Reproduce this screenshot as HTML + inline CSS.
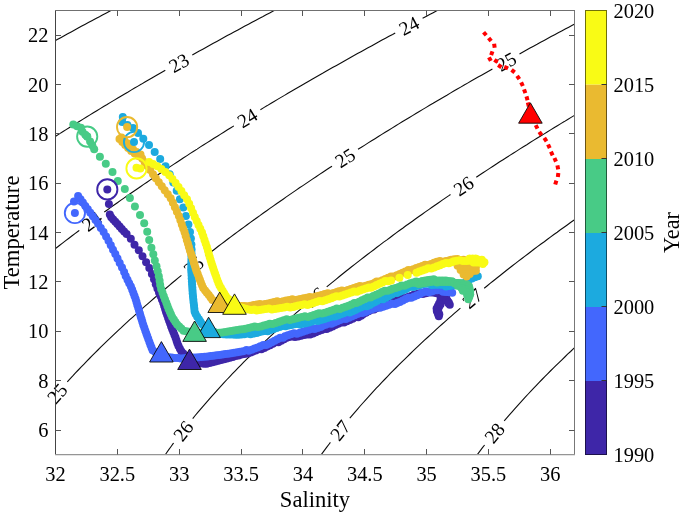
<!DOCTYPE html>
<html lang="en"><head><meta charset="utf-8"><title>T-S diagram</title>
<style>
html,body{margin:0;padding:0;background:#fff;}
body{width:685px;height:514px;overflow:hidden;position:relative;font-family:"Liberation Serif","Times New Roman",serif;}
</style></head><body>
<svg width="685" height="514" viewBox="0 0 685 514" style="position:absolute;left:0;top:0">
<defs><clipPath id="ax"><rect x="55.5" y="10.5" width="519.0" height="444.0"/></clipPath></defs>
<rect x="0" y="0" width="685" height="514" fill="#fff"/>
<g clip-path="url(#ax)"><path d="M25.7,57.2 29.2,55.2 32.7,53.2 36.2,51.3 39.7,49.3 43.2,47.4 46.7,45.4 50.2,43.5 53.7,41.5 57.2,39.6 60.7,37.7 64.2,35.7 67.7,33.8 71.2,31.9 74.7,30 78.2,28.1 81.8,26.1 85.3,24.2 88.8,22.3 92.3,20.4 95.9,18.5 99.4,16.7 102.9,14.8 106.4,12.9 110,11 113.5,9.1 117.1,7.3 120.6,5.4 124.1,3.5 127.7,1.7 131.2,-0.2 134.8,-2 138.3,-3.9 141.9,-5.7 145.4,-7.6 149,-9.4 152.5,-11.3 156.1,-13.1 159.6,-14.9 163.2,-16.8 166.8,-18.6 M25.7,155.5 29,153.3 32.4,151.2 35.7,149 39.1,146.8 42.5,144.6 45.8,142.5 49.2,140.3 52.6,138.2 56,136 59.4,133.9 62.7,131.8 66.1,129.6 69.5,127.5 72.9,125.4 76.3,123.3 79.7,121.2 83.1,119.1 86.5,117 90,114.9 93.4,112.8 96.8,110.7 100.2,108.6 103.6,106.5 107.1,104.5 110.5,102.4 113.9,100.4 117.4,98.3 120.8,96.3 124.2,94.2 127.7,92.2 131.1,90.1 134.6,88.1 138,86.1 141.5,84.1 144.9,82 148.4,80 151.9,78 155.3,76 158.8,74 162.3,72 165.3,70.3 M192.3,55 195.8,53 199.3,51.1 202.8,49.2 206.3,47.2 209.8,45.3 213.3,43.3 216.8,41.4 220.3,39.5 223.8,37.6 227.3,35.6 230.9,33.7 234.4,31.8 237.9,29.9 241.4,28 244.9,26.1 248.5,24.2 252,22.3 255.5,20.4 259.1,18.5 262.6,16.7 266.1,14.8 269.7,12.9 273.2,11 276.7,9.2 280.3,7.3 283.8,5.4 287.4,3.6 290.9,1.7 294.5,-0.1 298,-2 301.6,-3.8 305.1,-5.7 308.7,-7.5 312.2,-9.3 315.8,-11.2 319.4,-13 322.9,-14.8 326.5,-16.6 330.1,-18.4 M28,270.4 31.1,267.9 34.2,265.3 37.3,262.8 40.5,260.3 43.6,257.8 46.7,255.4 49.9,252.9 53,250.4 56.2,248 59.4,245.5 62.5,243.1 65.7,240.6 68.9,238.2 72.1,235.8 75.3,233.4 78.5,231 79.3,230.4 M104.3,212 107.6,209.7 110.8,207.4 114.1,205 117.4,202.7 120.6,200.4 123.9,198.1 127.2,195.8 130.5,193.5 133.8,191.3 137.1,189 140.4,186.7 143.7,184.4 147,182.2 150.3,179.9 153.6,177.7 156.9,175.5 160.2,173.2 163.6,171 166.9,168.8 170.2,166.6 173.6,164.4 176.9,162.2 180.3,160 183.6,157.8 187,155.6 190.3,153.4 193.7,151.2 197.1,149.1 200.4,146.9 203.8,144.8 207.2,142.6 210.6,140.5 214,138.3 217.4,136.2 220.7,134.1 224.1,132 227.5,129.8 230.9,127.7 233.9,125.9 M260.4,109.7 263.8,107.6 267.3,105.6 270.7,103.5 274.1,101.5 277.6,99.4 281,97.4 284.5,95.4 287.9,93.3 291.4,91.3 294.8,89.3 298.3,87.3 301.8,85.2 305.2,83.2 308.7,81.2 312.1,79.2 315.6,77.2 319.1,75.2 322.6,73.3 326,71.3 329.5,69.3 333,67.3 336.5,65.4 340,63.4 343.5,61.4 347,59.5 350.5,57.5 354,55.6 357.5,53.6 361,51.7 364.5,49.7 368,47.8 371.5,45.9 375,43.9 378.5,42 382,40.1 385.5,38.2 389,36.3 392.6,34.4 395.2,32.9 M422.6,18.3 426.1,16.4 429.6,14.6 433.2,12.7 436.7,10.8 440.3,9 443.8,7.1 447.4,5.3 450.9,3.4 454.5,1.6 458,-0.3 461.6,-2.1 465.1,-4 468.7,-5.8 472.3,-7.6 475.8,-9.4 479.4,-11.3 483,-13.1 486.5,-14.9 490.1,-16.7 493.7,-18.5 M67.3,381.8 70,378.8 72.8,375.9 75.5,372.9 78.3,370 81,367.1 83.8,364.3 86.6,361.4 89.4,358.5 92.2,355.7 95,352.8 97.9,350 100.7,347.2 103.6,344.4 106.4,341.6 109.3,338.9 112.2,336.1 115.1,333.3 118,330.6 121,327.9 123.9,325.1 126.9,322.4 129.8,319.7 132.8,317.1 135.8,314.4 138.7,311.7 141.7,309.1 144.7,306.4 147.7,303.8 150.8,301.1 153.8,298.5 156.8,295.9 159.9,293.3 162.9,290.7 166,288.2 169.1,285.6 172.1,283 175.2,280.5 178.3,277.9 181.4,275.4 181.4,275.4 M205.7,256.1 208.8,253.6 212,251.2 215.2,248.7 218.3,246.3 221.5,243.9 224.7,241.5 227.9,239 231.1,236.6 234.3,234.2 237.5,231.9 240.7,229.5 244,227.1 247.2,224.7 250.4,222.4 253.7,220 256.9,217.7 260.2,215.4 263.4,213 266.7,210.7 269.9,208.4 273.2,206.1 276.5,203.8 279.8,201.5 283.1,199.2 286.3,196.9 289.6,194.6 292.9,192.4 296.2,190.1 299.5,187.8 302.9,185.6 306.2,183.4 309.5,181.1 312.8,178.9 316.1,176.7 319.5,174.4 322.8,172.2 326.1,170 329.5,167.8 332,166.2 M358,149.3 361.4,147.2 364.8,145.1 368.2,142.9 371.6,140.8 375,138.7 378.4,136.5 381.8,134.4 385.2,132.3 388.6,130.2 392,128.1 395.4,126 398.8,123.9 402.2,121.8 405.6,119.8 409,117.7 412.5,115.6 415.9,113.5 419.3,111.5 422.8,109.4 426.2,107.4 429.6,105.3 433.1,103.3 436.5,101.2 440,99.2 443.4,97.2 446.9,95.2 450.3,93.1 453.8,91.1 457.3,89.1 460.7,87.1 464.2,85.1 467.6,83.1 471.1,81.1 474.6,79.1 478.1,77.1 481.5,75.2 485,73.2 488.5,71.2 492,69.2 492.4,69 M519.5,53.9 523,52 526.5,50 530,48.1 533.5,46.2 537.1,44.3 540.6,42.3 544.1,40.4 547.6,38.5 551.1,36.6 554.7,34.7 558.2,32.8 561.7,30.9 565.2,29.1 568.8,27.2 572.3,25.3 575.8,23.4 579.4,21.5 582.9,19.7 586.5,17.8 590,15.9 593.5,14.1 597.1,12.2 600.6,10.4 604.2,8.5 M146.4,483.2 148.5,479.8 150.6,476.4 152.8,473.1 155,469.7 157.2,466.4 159.4,463 161.7,459.7 164,456.5 166.3,453.2 168.6,449.9 170.9,446.7 173.3,443.4 173.6,443 M192.7,418.6 195.2,415.5 197.8,412.4 200.4,409.4 203,406.3 205.6,403.3 208.2,400.3 210.8,397.3 213.5,394.3 216.2,391.3 218.9,388.3 221.6,385.4 224.3,382.4 227,379.5 229.8,376.6 232.5,373.7 235.3,370.8 238.1,367.9 240.9,365.1 243.7,362.2 246.5,359.4 249.4,356.6 252.2,353.8 255.1,351 257.9,348.2 260.8,345.4 263.7,342.6 266.6,339.9 269.5,337.1 272.5,334.4 275.4,331.7 278.3,329 281.3,326.3 284.3,323.6 287.2,320.9 290.2,318.2 293.2,315.6 296.2,312.9 299.2,310.3 302.2,307.6 303,307 M326.7,286.9 329.8,284.4 332.9,281.9 336,279.3 339.1,276.8 342.2,274.3 345.3,271.8 348.5,269.3 351.6,266.8 354.7,264.4 357.9,261.9 361.1,259.4 364.2,257 367.4,254.5 370.6,252.1 373.8,249.7 376.9,247.3 380.1,244.9 383.3,242.4 386.6,240.1 389.8,237.7 393,235.3 396.2,232.9 399.4,230.5 402.7,228.2 405.9,225.8 409.2,223.5 412.4,221.2 415.7,218.8 418.9,216.5 422.2,214.2 425.4,211.9 428.7,209.6 432,207.3 435.3,205 438.6,202.7 441.9,200.4 445.2,198.1 448.5,195.9 450.5,194.5 M476.3,177.2 479.6,175 483,172.8 486.3,170.6 489.7,168.4 493,166.2 496.4,164 499.7,161.8 503.1,159.7 506.5,157.5 509.8,155.4 513.2,153.2 516.6,151.1 520,148.9 523.4,146.8 526.8,144.7 530.1,142.5 533.5,140.4 536.9,138.3 540.3,136.2 543.8,134.1 547.2,132 550.6,129.9 554,127.8 557.4,125.7 560.8,123.6 564.3,121.6 567.7,119.5 571.1,117.4 574.5,115.4 578,113.3 581.4,111.3 584.9,109.2 588.3,107.2 591.8,105.2 595.2,103.1 598.7,101.1 602.1,99.1 M301.8,483.4 303.9,480.1 306.1,476.7 308.3,473.4 310.5,470 312.8,466.7 315,463.4 317.3,460.1 319.7,456.9 322,453.6 324.4,450.4 326.8,447.2 329.2,444 330.4,442.4 M349.8,418.2 352.4,415.1 355,412.1 357.6,409.1 360.2,406 362.9,403 365.5,400.1 368.2,397.1 370.9,394.1 373.6,391.2 376.3,388.2 379.1,385.3 381.8,382.4 384.6,379.5 387.4,376.6 390.1,373.7 392.9,370.9 395.8,368 398.6,365.2 401.4,362.4 404.3,359.6 407.1,356.8 410,354 412.9,351.2 415.8,348.4 418.7,345.7 421.6,342.9 424.5,340.2 427.5,337.5 430.4,334.8 433.4,332.1 436.3,329.4 439.3,326.7 442.3,324 445.3,321.4 448.3,318.7 451.3,316.1 454.3,313.4 457.3,310.8 460.4,308.2 460.4,308.2 M484.2,288.3 487.3,285.8 490.4,283.2 493.5,280.7 496.6,278.2 499.8,275.7 502.9,273.3 506,270.8 509.2,268.3 512.4,265.8 515.5,263.4 518.7,260.9 521.9,258.5 525,256.1 528.2,253.7 531.4,251.2 534.6,248.8 537.8,246.4 541,244 544.3,241.7 547.5,239.3 550.7,236.9 553.9,234.5 557.2,232.2 560.4,229.8 563.7,227.5 566.9,225.2 570.2,222.8 573.4,220.5 576.7,218.2 580,215.9 583.3,213.6 586.5,211.3 589.8,209 593.1,206.7 596.4,204.5 599.7,202.2 603,199.9 M457,483.6 459.2,480.3 461.4,477 463.7,473.7 466,470.4 468.3,467.1 470.6,463.8 472.9,460.6 475.3,457.3 477.7,454.1 480.1,450.9 482.5,447.7 484.6,445 M504.2,420.9 506.8,417.9 509.4,414.8 512.1,411.8 514.7,408.8 517.4,405.8 520.1,402.9 522.8,399.9 525.5,396.9 528.2,394 530.9,391.1 533.7,388.2 536.4,385.3 539.2,382.4 542,379.5 544.8,376.7 547.6,373.8 550.4,371 553.3,368.2 556.1,365.4 559,362.6 561.9,359.8 564.8,357 567.6,354.2 570.6,351.5 573.5,348.7 576.4,346 579.3,343.3 582.3,340.6 585.2,337.9 588.2,335.2 591.2,332.5 594.2,329.8 597.1,327.2 600.1,324.5 603.2,321.9" fill="none" stroke="#0c0c0c" stroke-width="1.1"/></g>
<g font-family="'Liberation Serif','Times New Roman',serif" font-size="19.5" fill="#000" text-anchor="middle">
<text transform="translate(178.8,62.6) rotate(-29.5)" y="7">23</text>
<text transform="translate(408.9,25.6) rotate(-28.1)" y="7">24</text>
<text transform="translate(247.1,117.8) rotate(-31.4)" y="7">24</text>
<text transform="translate(91.8,221.1) rotate(-36.3)" y="7">24</text>
<text transform="translate(506,61.4) rotate(-29.2)" y="7">25</text>
<text transform="translate(345,157.7) rotate(-32.9)" y="7">25</text>
<text transform="translate(193.5,265.7) rotate(-38.5)" y="7">25</text>
<text transform="translate(57,393.3) rotate(-48.7)" y="7">25</text>
<text transform="translate(463.4,185.8) rotate(-33.9)" y="7">26</text>
<text transform="translate(314.8,296.9) rotate(-40.2)" y="7">26</text>
<text transform="translate(183,430.7) rotate(-52)" y="7">26</text>
<text transform="translate(472.2,298.2) rotate(-39.9)" y="7">27</text>
<text transform="translate(340,430.2) rotate(-51.3)" y="7">27</text>
<text transform="translate(494.3,432.8) rotate(-50.9)" y="7">28</text>
</g>
<g clip-path="url(#ax)">
<g fill="#3E26A8"><circle cx="108.9" cy="203.9" r="4.0"/><circle cx="109.8" cy="214.5" r="4.0"/><circle cx="111.2" cy="217.2" r="4.0"/><circle cx="113.2" cy="219.4" r="4.0"/><circle cx="115.3" cy="221.7" r="4.0"/><circle cx="117.4" cy="224" r="4.0"/><circle cx="119.6" cy="226.4" r="4.0"/><circle cx="121.8" cy="228.9" r="4.0"/><circle cx="124.1" cy="231.4" r="4.0"/><circle cx="126.6" cy="233.9" r="4.0"/><circle cx="130.8" cy="238.8" r="4.0"/><circle cx="134.5" cy="244.7" r="4.0"/><circle cx="138.8" cy="250.3" r="4.0"/><circle cx="142.5" cy="256.2" r="4.0"/><circle cx="146.1" cy="262.2" r="4.0"/><circle cx="149.3" cy="268" r="4.0"/><circle cx="151.9" cy="273.9" r="4.0"/><circle cx="154" cy="279.3" r="4.0"/><circle cx="155.8" cy="284.2" r="4.0"/><circle cx="157.4" cy="288.5" r="4.0"/><circle cx="159" cy="292.4" r="4.0"/><circle cx="160.5" cy="296" r="4.0"/><circle cx="161.9" cy="299.4" r="4.0"/><circle cx="163.2" cy="302.8" r="4.0"/><circle cx="164.2" cy="306.1" r="4.0"/><circle cx="165.2" cy="309.3" r="4.0"/><circle cx="166.1" cy="312.3" r="4.0"/><circle cx="167.1" cy="315.1" r="4.0"/><circle cx="168.1" cy="317.9" r="4.0"/><circle cx="169.1" cy="320.7" r="4.0"/><circle cx="170.1" cy="323.6" r="4.0"/><circle cx="171.1" cy="326.4" r="4.0"/><circle cx="172.2" cy="329.2" r="4.0"/><circle cx="173.3" cy="332" r="4.0"/><circle cx="174.4" cy="334.8" r="4.0"/><circle cx="175.5" cy="337.6" r="4.0"/><circle cx="176.5" cy="340.4" r="4.0"/><circle cx="177.4" cy="343.2" r="4.0"/><circle cx="178.5" cy="346" r="4.0"/><circle cx="179.9" cy="348.7" r="4.0"/><circle cx="181.3" cy="351.3" r="4.0"/><circle cx="183.3" cy="353.6" r="4.0"/><circle cx="185.3" cy="355.8" r="4.0"/><circle cx="187.3" cy="358" r="4.0"/><circle cx="189.3" cy="360.3" r="4.0"/><circle cx="192.1" cy="361.1" r="4.0"/><circle cx="195" cy="361.8" r="4.0"/><circle cx="198" cy="362.5" r="4.0"/><circle cx="200.9" cy="363.2" r="4.0"/><circle cx="203.8" cy="363.8" r="4.0"/><circle cx="206.7" cy="363.8" r="4.0"/><circle cx="209.6" cy="363.1" r="4.0"/><circle cx="212.5" cy="362.3" r="4.0"/><circle cx="215.4" cy="361.5" r="4.0"/><circle cx="218.3" cy="360.8" r="4.0"/><circle cx="221.2" cy="360" r="4.0"/><circle cx="224.1" cy="359.2" r="4.0"/><circle cx="227" cy="358.4" r="4.0"/><circle cx="229.9" cy="357.7" r="4.0"/><circle cx="232.8" cy="356.9" r="4.0"/><circle cx="235.7" cy="356.1" r="4.0"/><circle cx="238.6" cy="355.4" r="4.0"/><circle cx="241.5" cy="354.6" r="4.0"/><circle cx="244.4" cy="353.9" r="4.0"/><circle cx="247.7" cy="353.6" r="4.0"/><circle cx="250.6" cy="352.6" r="4.0"/><circle cx="252.7" cy="351.6" r="4.0"/><circle cx="255.7" cy="350.6" r="4.0"/><circle cx="258.6" cy="349.2" r="4.0"/><circle cx="261.4" cy="349.3" r="4.0"/><circle cx="264.3" cy="347.9" r="4.0"/><circle cx="267.1" cy="346.6" r="4.0"/><circle cx="270" cy="345.2" r="4.0"/><circle cx="272.8" cy="343.8" r="4.0"/><circle cx="275.6" cy="342.3" r="4.0"/><circle cx="278.4" cy="342.2" r="4.0"/><circle cx="281.2" cy="340.7" r="4.0"/><circle cx="284" cy="339.2" r="4.0"/><circle cx="286.8" cy="337.8" r="4.0"/><circle cx="289" cy="337.1" r="4.0"/><circle cx="292" cy="336.4" r="4.0"/><circle cx="295" cy="337.1" r="4.0"/><circle cx="298.1" cy="336.4" r="4.0"/><circle cx="301.1" cy="335.7" r="4.0"/><circle cx="304.1" cy="335" r="4.0"/><circle cx="307.2" cy="334.4" r="4.0"/><circle cx="310.1" cy="334.6" r="4.0"/><circle cx="313" cy="333.4" r="4.0"/><circle cx="315.9" cy="332.2" r="4.0"/><circle cx="318.8" cy="331.1" r="4.0"/><circle cx="321.7" cy="329.9" r="4.0"/><circle cx="324.7" cy="328.7" r="4.0"/><circle cx="326.7" cy="328.9" r="4.0"/><circle cx="329.6" cy="327.7" r="4.0"/><circle cx="332.5" cy="326.4" r="4.0"/><circle cx="335.4" cy="325.1" r="4.0"/><circle cx="338.3" cy="323.8" r="4.0"/><circle cx="341.1" cy="322.5" r="4.0"/><circle cx="344" cy="322.6" r="4.0"/><circle cx="346.9" cy="321.3" r="4.0"/><circle cx="349.8" cy="320.1" r="4.0"/><circle cx="352.6" cy="318.7" r="4.0"/><circle cx="355.4" cy="317.2" r="4.0"/><circle cx="358.3" cy="317.2" r="4.0"/><circle cx="361.1" cy="315.8" r="4.0"/><circle cx="363" cy="314.3" r="4.0"/><circle cx="365.8" cy="312.8" r="4.0"/><circle cx="368.6" cy="311.3" r="4.0"/><circle cx="371.3" cy="309.7" r="4.0"/><circle cx="374.1" cy="309.6" r="4.0"/><circle cx="376.9" cy="308.1" r="4.0"/><circle cx="379.8" cy="306.7" r="4.0"/><circle cx="382.6" cy="305.3" r="4.0"/><circle cx="385.5" cy="304" r="4.0"/><circle cx="388.3" cy="302.6" r="4.0"/><circle cx="391.2" cy="302.7" r="4.0"/><circle cx="394.1" cy="301.6" r="4.0"/><circle cx="397.1" cy="300.4" r="4.0"/><circle cx="399.1" cy="299.3" r="4.0"/><circle cx="402" cy="298.1" r="4.0"/><circle cx="405" cy="298.3" r="4.0"/><circle cx="407.9" cy="297.1" r="4.0"/><circle cx="410.8" cy="296" r="4.0"/><circle cx="413.7" cy="294.8" r="4.0"/><circle cx="416.7" cy="293.9" r="4.0"/><circle cx="419.7" cy="293.2" r="4.0"/><circle cx="422.8" cy="293.9" r="4.0"/><circle cx="425.8" cy="293.3" r="4.0"/><circle cx="428.8" cy="292.6" r="4.0"/><circle cx="431.9" cy="292.5" r="4.0"/><circle cx="434.9" cy="292.8" r="4.0"/><circle cx="437" cy="293.2" r="4.0"/><circle cx="440" cy="294.9" r="4.0"/><circle cx="443" cy="295.3" r="4.0"/><circle cx="444.6" cy="296.1" r="4.0"/><circle cx="442.5" cy="297.9" r="4.0"/><circle cx="440.5" cy="299.8" r="4.0"/><circle cx="439.1" cy="303.6" r="4.0"/><circle cx="437.9" cy="306" r="4.0"/><circle cx="436.6" cy="308.5" r="4.0"/><circle cx="436.8" cy="311" r="4.0"/><circle cx="437.8" cy="313.6" r="4.0"/><circle cx="438.8" cy="316.2" r="4.0"/><circle cx="445" cy="295.7" r="4.0"/><circle cx="446.2" cy="298.2" r="4.0"/><circle cx="447.5" cy="300.7" r="4.0"/><circle cx="448.4" cy="303.3" r="4.0"/><circle cx="446.1" cy="296.9" r="4.0"/><circle cx="444" cy="298.8" r="4.0"/><circle cx="442" cy="300.7" r="4.0"/><circle cx="440.5" cy="304.4" r="4.0"/><circle cx="439.1" cy="306.7" r="4.0"/><circle cx="437.7" cy="309.1" r="4.0"/><circle cx="438.3" cy="311.7" r="4.0"/><circle cx="439.3" cy="314.3" r="4.0"/><circle cx="446.6" cy="300.5" r="4.0"/><circle cx="448.8" cy="302.4" r="4.0"/><circle cx="449.8" cy="304.8" r="4.0"/></g>
<g fill="#4367FD"><circle cx="74" cy="201.6" r="4.0"/><circle cx="78.1" cy="196" r="4.0"/><circle cx="80.5" cy="199.2" r="4.0"/><circle cx="82.9" cy="202.5" r="4.0"/><circle cx="85.3" cy="205.9" r="4.0"/><circle cx="87.8" cy="209.3" r="4.0"/><circle cx="90.3" cy="212.8" r="4.0"/><circle cx="92.9" cy="216.3" r="4.0"/><circle cx="95.5" cy="220" r="4.0"/><circle cx="98.1" cy="223.8" r="4.0"/><circle cx="100.8" cy="227.9" r="4.0"/><circle cx="103.6" cy="232.1" r="4.0"/><circle cx="106.1" cy="236.4" r="4.0"/><circle cx="108.5" cy="240.8" r="4.0"/><circle cx="110.8" cy="245.2" r="4.0"/><circle cx="113" cy="249.7" r="4.0"/><circle cx="115.3" cy="254.1" r="4.0"/><circle cx="117.5" cy="258.6" r="4.0"/><circle cx="119.7" cy="263.1" r="4.0"/><circle cx="122" cy="267.6" r="4.0"/><circle cx="124.1" cy="271.9" r="4.0"/><circle cx="125.7" cy="276.1" r="4.0"/><circle cx="127.5" cy="279.7" r="4.0"/><circle cx="129.2" cy="283.2" r="4.0"/><circle cx="130.9" cy="286.5" r="4.0"/><circle cx="132.2" cy="289.8" r="4.0"/><circle cx="133.4" cy="293" r="4.0"/><circle cx="134.5" cy="296.1" r="4.0"/><circle cx="135.6" cy="299.1" r="4.0"/><circle cx="136.5" cy="302" r="4.0"/><circle cx="137.3" cy="304.9" r="4.0"/><circle cx="138.2" cy="307.7" r="4.0"/><circle cx="139" cy="310.6" r="4.0"/><circle cx="139.9" cy="313.5" r="4.0"/><circle cx="140.7" cy="316.4" r="4.0"/><circle cx="141.6" cy="319.2" r="4.0"/><circle cx="142.4" cy="322.1" r="4.0"/><circle cx="143.3" cy="325" r="4.0"/><circle cx="144.3" cy="327.8" r="4.0"/><circle cx="145.3" cy="330.7" r="4.0"/><circle cx="146.3" cy="333.5" r="4.0"/><circle cx="147.3" cy="336.3" r="4.0"/><circle cx="148.3" cy="339.1" r="4.0"/><circle cx="149.4" cy="341.9" r="4.0"/><circle cx="150.4" cy="344.7" r="4.0"/><circle cx="151.5" cy="347.5" r="4.0"/><circle cx="152.6" cy="350.3" r="4.0"/><circle cx="155.1" cy="352" r="4.0"/><circle cx="157.6" cy="353.5" r="4.0"/><circle cx="160.2" cy="355.1" r="4.0"/><circle cx="162.7" cy="356.7" r="4.0"/><circle cx="165.7" cy="357" r="4.0"/><circle cx="168.7" cy="357.3" r="4.0"/><circle cx="171.7" cy="357.6" r="4.0"/><circle cx="174.7" cy="357.9" r="4.0"/><circle cx="177.7" cy="358.1" r="4.0"/><circle cx="180.7" cy="358.4" r="4.0"/><circle cx="183.7" cy="358.2" r="4.0"/><circle cx="186.6" cy="358" r="4.0"/><circle cx="189.6" cy="357.8" r="4.0"/><circle cx="192.6" cy="357.6" r="4.0"/><circle cx="195.6" cy="357.4" r="4.0"/><circle cx="198.6" cy="357.2" r="4.0"/><circle cx="201.6" cy="357" r="4.0"/><circle cx="204.6" cy="356.8" r="4.0"/><circle cx="207.6" cy="356.4" r="4.0"/><circle cx="210.6" cy="356" r="4.0"/><circle cx="213.5" cy="355.7" r="4.0"/><circle cx="216.5" cy="355.3" r="4.0"/><circle cx="219.5" cy="354.9" r="4.0"/><circle cx="222.5" cy="354.5" r="4.0"/><circle cx="225.4" cy="354.1" r="4.0"/><circle cx="228.4" cy="353.8" r="4.0"/><circle cx="231.4" cy="353.3" r="4.0"/><circle cx="234.3" cy="352.8" r="4.0"/><circle cx="237.3" cy="352.3" r="4.0"/><circle cx="240.2" cy="351.7" r="4.0"/><circle cx="243.2" cy="351.2" r="4.0"/><circle cx="246.5" cy="350.1" r="4.0"/><circle cx="248.7" cy="350.7" r="4.0"/><circle cx="251.7" cy="349.8" r="4.0"/><circle cx="254.6" cy="348.6" r="4.0"/><circle cx="257.5" cy="347.5" r="4.0"/><circle cx="260.4" cy="346.3" r="4.0"/><circle cx="263.3" cy="345.1" r="4.0"/><circle cx="266.2" cy="345.1" r="4.0"/><circle cx="269" cy="343.7" r="4.0"/><circle cx="271.8" cy="342.2" r="4.0"/><circle cx="274.6" cy="340.8" r="4.0"/><circle cx="277.4" cy="339.3" r="4.0"/><circle cx="280.2" cy="337.8" r="4.0"/><circle cx="283.1" cy="337.8" r="4.0"/><circle cx="285" cy="336.3" r="4.0"/><circle cx="287.9" cy="335.2" r="4.0"/><circle cx="290.9" cy="334.3" r="4.0"/><circle cx="293.9" cy="333.3" r="4.0"/><circle cx="296.9" cy="333.7" r="4.0"/><circle cx="299.9" cy="332.8" r="4.0"/><circle cx="302.8" cy="331.8" r="4.0"/><circle cx="305.8" cy="330.8" r="4.0"/><circle cx="308.8" cy="329.8" r="4.0"/><circle cx="311.7" cy="328.8" r="4.0"/><circle cx="314.7" cy="329" r="4.0"/><circle cx="317.6" cy="328" r="4.0"/><circle cx="320.6" cy="326.9" r="4.0"/><circle cx="322.6" cy="325.8" r="4.0"/><circle cx="325.6" cy="324.7" r="4.0"/><circle cx="328.5" cy="323.6" r="4.0"/><circle cx="331.4" cy="323.8" r="4.0"/><circle cx="334.3" cy="322.5" r="4.0"/><circle cx="337.2" cy="321.3" r="4.0"/><circle cx="340.1" cy="320" r="4.0"/><circle cx="343" cy="318.8" r="4.0"/><circle cx="345.9" cy="318.9" r="4.0"/><circle cx="348.8" cy="317.7" r="4.0"/><circle cx="351.7" cy="316.5" r="4.0"/><circle cx="354.6" cy="315.3" r="4.0"/><circle cx="357.5" cy="314.1" r="4.0"/><circle cx="359.6" cy="312.9" r="4.0"/><circle cx="362.5" cy="313.1" r="4.0"/><circle cx="365.4" cy="311.9" r="4.0"/><circle cx="368.3" cy="310.7" r="4.0"/><circle cx="371.2" cy="309.5" r="4.0"/><circle cx="374.2" cy="308.4" r="4.0"/><circle cx="377.1" cy="307.4" r="4.0"/><circle cx="380.1" cy="307.8" r="4.0"/><circle cx="383.1" cy="306.8" r="4.0"/><circle cx="386.1" cy="305.8" r="4.0"/><circle cx="389" cy="304.8" r="4.0"/><circle cx="392" cy="303.8" r="4.0"/><circle cx="395" cy="304.1" r="4.0"/><circle cx="397.1" cy="303.1" r="4.0"/><circle cx="399.9" cy="301.9" r="4.0"/><circle cx="402.8" cy="300.5" r="4.0"/><circle cx="405.6" cy="299.1" r="4.0"/><circle cx="408.5" cy="297.8" r="4.0"/><circle cx="411.3" cy="297.8" r="4.0"/><circle cx="414.2" cy="296.5" r="4.0"/><circle cx="417.1" cy="295.2" r="4.0"/><circle cx="420" cy="293.9" r="4.0"/><circle cx="422.8" cy="292.6" r="4.0"/><circle cx="425.8" cy="291.6" r="4.0"/><circle cx="428.8" cy="292.2" r="4.0"/><circle cx="431.8" cy="291.4" r="4.0"/><circle cx="434" cy="290.6" r="4.0"/><circle cx="437" cy="290.2" r="4.0"/><circle cx="440.1" cy="290.3" r="4.0"/><circle cx="443.1" cy="291.8" r="4.0"/><circle cx="446.1" cy="292" r="4.0"/><circle cx="449.1" cy="292.3" r="4.0"/><circle cx="452.2" cy="292.7" r="4.0"/></g>
<g fill="#1CAADF"><circle cx="122.8" cy="117" r="4.0"/><circle cx="122.2" cy="122" r="4.0"/><circle cx="127.4" cy="124.9" r="4.0"/><circle cx="133" cy="128.1" r="4.0"/><circle cx="138" cy="132.9" r="4.0"/><circle cx="143.3" cy="138.8" r="4.0"/><circle cx="149" cy="145" r="4.0"/><circle cx="154.7" cy="151.9" r="4.0"/><circle cx="160.2" cy="159.1" r="4.0"/><circle cx="165.5" cy="166.3" r="4.0"/><circle cx="169.7" cy="174.2" r="4.0"/><circle cx="173.3" cy="182.5" r="4.0"/><circle cx="176.7" cy="190.8" r="4.0"/><circle cx="179.9" cy="199.2" r="4.0"/><circle cx="183.3" cy="207.5" r="4.0"/><circle cx="185.9" cy="216.1" r="4.0"/><circle cx="188.4" cy="224.4" r="4.0"/><circle cx="190" cy="231.9" r="4.0"/><circle cx="190.9" cy="238.6" r="4.0"/><circle cx="191.4" cy="244.5" r="4.0"/><circle cx="191.6" cy="249.5" r="4.0"/><circle cx="191.5" cy="253.2" r="4.0"/><circle cx="191.5" cy="256.7" r="4.0"/><circle cx="191.4" cy="260" r="4.0"/><circle cx="191.3" cy="263.3" r="4.0"/><circle cx="191.3" cy="266.4" r="4.0"/><circle cx="191.2" cy="269.5" r="4.0"/><circle cx="191.4" cy="272.5" r="4.0"/><circle cx="191.6" cy="275.5" r="4.0"/><circle cx="191.7" cy="278.5" r="4.0"/><circle cx="191.9" cy="281.5" r="4.0"/><circle cx="192.1" cy="284.5" r="4.0"/><circle cx="192.3" cy="287.5" r="4.0"/><circle cx="192.5" cy="290.5" r="4.0"/><circle cx="192.7" cy="293.5" r="4.0"/><circle cx="193" cy="296.5" r="4.0"/><circle cx="193.3" cy="299.5" r="4.0"/><circle cx="193.6" cy="302.4" r="4.0"/><circle cx="194" cy="305.4" r="4.0"/><circle cx="194.3" cy="308.4" r="4.0"/><circle cx="194.6" cy="311.4" r="4.0"/><circle cx="195.6" cy="314.1" r="4.0"/><circle cx="197.2" cy="316.7" r="4.0"/><circle cx="198.9" cy="319.2" r="4.0"/><circle cx="200.5" cy="321.7" r="4.0"/><circle cx="202.2" cy="324.2" r="4.0"/><circle cx="204.3" cy="326.1" r="4.0"/><circle cx="206.9" cy="327.7" r="4.0"/><circle cx="209.5" cy="329.2" r="4.0"/><circle cx="212" cy="330.8" r="4.0"/><circle cx="214.6" cy="332.3" r="4.0"/><circle cx="217.4" cy="333.3" r="4.0"/><circle cx="220.3" cy="333.9" r="4.0"/><circle cx="223.3" cy="334.3" r="4.0"/><circle cx="226.3" cy="334.4" r="4.0"/><circle cx="229.3" cy="334.5" r="4.0"/><circle cx="232.3" cy="334.6" r="4.0"/><circle cx="235.3" cy="334.7" r="4.0"/><circle cx="238.3" cy="334.8" r="4.0"/><circle cx="241.3" cy="334.5" r="4.0"/><circle cx="244.3" cy="334.2" r="4.0"/><circle cx="247.4" cy="333.4" r="4.0"/><circle cx="250.5" cy="334.2" r="4.0"/><circle cx="253.5" cy="333.5" r="4.0"/><circle cx="256.6" cy="332.9" r="4.0"/><circle cx="258.8" cy="332.2" r="4.0"/><circle cx="261.8" cy="331.6" r="4.0"/><circle cx="264.8" cy="330.9" r="4.0"/><circle cx="267.8" cy="331.2" r="4.0"/><circle cx="270.7" cy="330.1" r="4.0"/><circle cx="273.7" cy="329.1" r="4.0"/><circle cx="276.6" cy="328" r="4.0"/><circle cx="279.6" cy="326.9" r="4.0"/><circle cx="282.5" cy="325.9" r="4.0"/><circle cx="285.5" cy="326.2" r="4.0"/><circle cx="288.5" cy="325.5" r="4.0"/><circle cx="291.5" cy="324.9" r="4.0"/><circle cx="294.6" cy="324.3" r="4.0"/><circle cx="296.8" cy="323.7" r="4.0"/><circle cx="299.8" cy="324.4" r="4.0"/><circle cx="302.9" cy="323.8" r="4.0"/><circle cx="305.9" cy="323.2" r="4.0"/><circle cx="308.9" cy="322.5" r="4.0"/><circle cx="311.9" cy="321.5" r="4.0"/><circle cx="314.9" cy="320.6" r="4.0"/><circle cx="317.9" cy="321" r="4.0"/><circle cx="320.9" cy="320.1" r="4.0"/><circle cx="323.8" cy="319.2" r="4.0"/><circle cx="326.8" cy="318.2" r="4.0"/><circle cx="329.8" cy="317.3" r="4.0"/><circle cx="332.8" cy="316.2" r="4.0"/><circle cx="334.8" cy="316.5" r="4.0"/><circle cx="337.8" cy="315.4" r="4.0"/><circle cx="340.7" cy="314.3" r="4.0"/><circle cx="343.7" cy="313.2" r="4.0"/><circle cx="346.6" cy="312.1" r="4.0"/><circle cx="349.6" cy="312.4" r="4.0"/><circle cx="352.5" cy="311.2" r="4.0"/><circle cx="355.4" cy="309.9" r="4.0"/><circle cx="358.2" cy="308.6" r="4.0"/><circle cx="361.1" cy="307.3" r="4.0"/><circle cx="364" cy="306.1" r="4.0"/><circle cx="366.9" cy="306.2" r="4.0"/><circle cx="369.8" cy="304.9" r="4.0"/><circle cx="371.8" cy="303.6" r="4.0"/><circle cx="374.6" cy="302.2" r="4.0"/><circle cx="377.4" cy="300.7" r="4.0"/><circle cx="380.2" cy="299.2" r="4.0"/><circle cx="383" cy="299.2" r="4.0"/><circle cx="385.8" cy="297.7" r="4.0"/><circle cx="388.6" cy="296.2" r="4.0"/><circle cx="391.4" cy="294.7" r="4.0"/><circle cx="394.2" cy="293.2" r="4.0"/><circle cx="397" cy="293.1" r="4.0"/><circle cx="399.8" cy="291.7" r="4.0"/><circle cx="402.7" cy="290.5" r="4.0"/><circle cx="405.6" cy="289.2" r="4.0"/><circle cx="407.6" cy="287.9" r="4.0"/><circle cx="410.5" cy="286.7" r="4.0"/><circle cx="413.5" cy="287.1" r="4.0"/><circle cx="416.5" cy="286.1" r="4.0"/><circle cx="419.5" cy="285.2" r="4.0"/><circle cx="422.4" cy="284.2" r="4.0"/><circle cx="425.5" cy="283.8" r="4.0"/><circle cx="428.6" cy="283.7" r="4.0"/><circle cx="431.6" cy="284.9" r="4.0"/><circle cx="434.7" cy="284.7" r="4.0"/><circle cx="437.7" cy="284.7" r="4.0"/><circle cx="440.8" cy="284.8" r="4.0"/><circle cx="443.8" cy="285" r="4.0"/><circle cx="446" cy="286.4" r="4.0"/><circle cx="449.1" cy="286" r="4.0"/><circle cx="452.1" cy="285.6" r="4.0"/><circle cx="455.2" cy="285.2" r="4.0"/><circle cx="458.2" cy="284.8" r="4.0"/><circle cx="461.1" cy="283.7" r="4.0"/><circle cx="463.8" cy="283.3" r="4.0"/><circle cx="466.4" cy="281.5" r="4.0"/><circle cx="469" cy="279.7" r="4.0"/><circle cx="471.9" cy="278.4" r="4.0"/><circle cx="474.8" cy="277.3" r="4.0"/><circle cx="477.8" cy="276.3" r="4.0"/></g>
<g fill="#48CB86"><circle cx="73.3" cy="124.6" r="4.0"/><circle cx="77.1" cy="126.2" r="4.0"/><circle cx="80.9" cy="127.7" r="4.0"/><circle cx="82.5" cy="131.8" r="4.0"/><circle cx="85.3" cy="134.7" r="4.0"/><circle cx="87.2" cy="136.6" r="4.0"/><circle cx="90.1" cy="141.6" r="4.0"/><circle cx="92.3" cy="145.4" r="4.0"/><circle cx="94.2" cy="149.2" r="4.0"/><circle cx="99.9" cy="156.8" r="4.0"/><circle cx="105.8" cy="163.8" r="4.0"/><circle cx="112.5" cy="172" r="4.0"/><circle cx="117.8" cy="180.9" r="4.0"/><circle cx="124.8" cy="188.9" r="4.0"/><circle cx="129.9" cy="198.1" r="4.0"/><circle cx="134.9" cy="206.6" r="4.0"/><circle cx="140" cy="215" r="4.0"/><circle cx="144.2" cy="223.2" r="4.0"/><circle cx="147.2" cy="231.8" r="4.0"/><circle cx="149.2" cy="240.1" r="4.0"/><circle cx="151.4" cy="247.7" r="4.0"/><circle cx="153.3" cy="254.2" r="4.0"/><circle cx="154.8" cy="260.6" r="4.0"/><circle cx="156.5" cy="266.3" r="4.0"/><circle cx="157.7" cy="271.3" r="4.0"/><circle cx="158.8" cy="276.2" r="4.0"/><circle cx="159.6" cy="280.7" r="4.0"/><circle cx="160.2" cy="285" r="4.0"/><circle cx="161.1" cy="289" r="4.0"/><circle cx="162.5" cy="292.7" r="4.0"/><circle cx="163.8" cy="296.2" r="4.0"/><circle cx="165" cy="299.5" r="4.0"/><circle cx="166.3" cy="302.7" r="4.0"/><circle cx="167.4" cy="305.8" r="4.0"/><circle cx="168.5" cy="308.7" r="4.0"/><circle cx="169.7" cy="311.4" r="4.0"/><circle cx="170.9" cy="314.2" r="4.0"/><circle cx="172.1" cy="316.9" r="4.0"/><circle cx="173.8" cy="319.4" r="4.0"/><circle cx="175.4" cy="321.9" r="4.0"/><circle cx="177.1" cy="324.4" r="4.0"/><circle cx="179.2" cy="326.5" r="4.0"/><circle cx="181.3" cy="328.6" r="4.0"/><circle cx="183.5" cy="330.7" r="4.0"/><circle cx="186.4" cy="331.2" r="4.0"/><circle cx="189.4" cy="331.8" r="4.0"/><circle cx="192.4" cy="332.3" r="4.0"/><circle cx="195.3" cy="332.8" r="4.0"/><circle cx="198.3" cy="332.8" r="4.0"/><circle cx="201.3" cy="332.8" r="4.0"/><circle cx="204.3" cy="332.8" r="4.0"/><circle cx="207.3" cy="332.8" r="4.0"/><circle cx="210.3" cy="332.7" r="4.0"/><circle cx="213.3" cy="332.7" r="4.0"/><circle cx="216.3" cy="332.7" r="4.0"/><circle cx="219.3" cy="332.7" r="4.0"/><circle cx="222.3" cy="332.6" r="4.0"/><circle cx="225.3" cy="332.1" r="4.0"/><circle cx="228.2" cy="331.6" r="4.0"/><circle cx="231.2" cy="331.1" r="4.0"/><circle cx="234.1" cy="330.6" r="4.0"/><circle cx="237.1" cy="330.1" r="4.0"/><circle cx="240.1" cy="329.6" r="4.0"/><circle cx="243" cy="329.2" r="4.0"/><circle cx="245.6" cy="328.7" r="4.0"/><circle cx="248.7" cy="328" r="4.0"/><circle cx="251.7" cy="327.3" r="4.0"/><circle cx="254.7" cy="326.5" r="4.0"/><circle cx="257.7" cy="327.1" r="4.0"/><circle cx="260.8" cy="326.4" r="4.0"/><circle cx="263.8" cy="325.6" r="4.0"/><circle cx="266.8" cy="324.7" r="4.0"/><circle cx="269.7" cy="323.7" r="4.0"/><circle cx="272.7" cy="324.1" r="4.0"/><circle cx="275.7" cy="323.1" r="4.0"/><circle cx="278.7" cy="322.1" r="4.0"/><circle cx="280.8" cy="321.2" r="4.0"/><circle cx="283.7" cy="320.2" r="4.0"/><circle cx="286.7" cy="319.3" r="4.0"/><circle cx="289.8" cy="319.9" r="4.0"/><circle cx="292.8" cy="319.2" r="4.0"/><circle cx="295.8" cy="318.5" r="4.0"/><circle cx="298.8" cy="317.7" r="4.0"/><circle cx="301.9" cy="317" r="4.0"/><circle cx="304.9" cy="316.3" r="4.0"/><circle cx="307.9" cy="316.9" r="4.0"/><circle cx="310.9" cy="316" r="4.0"/><circle cx="313.9" cy="315.1" r="4.0"/><circle cx="316.9" cy="314.1" r="4.0"/><circle cx="319" cy="313.2" r="4.0"/><circle cx="322" cy="313.6" r="4.0"/><circle cx="325" cy="312.7" r="4.0"/><circle cx="328" cy="311.8" r="4.0"/><circle cx="330.9" cy="310.7" r="4.0"/><circle cx="333.9" cy="309.7" r="4.0"/><circle cx="336.8" cy="308.6" r="4.0"/><circle cx="339.8" cy="308.9" r="4.0"/><circle cx="342.7" cy="307.8" r="4.0"/><circle cx="345.7" cy="306.8" r="4.0"/><circle cx="348.6" cy="305.7" r="4.0"/><circle cx="351.5" cy="304.5" r="4.0"/><circle cx="354.4" cy="303.1" r="4.0"/><circle cx="356.3" cy="303.1" r="4.0"/><circle cx="359.2" cy="301.7" r="4.0"/><circle cx="362" cy="300.3" r="4.0"/><circle cx="364.8" cy="298.9" r="4.0"/><circle cx="367.7" cy="297.5" r="4.0"/><circle cx="370.5" cy="297.4" r="4.0"/><circle cx="373.3" cy="296.1" r="4.0"/><circle cx="376.2" cy="294.7" r="4.0"/><circle cx="379.1" cy="293.4" r="4.0"/><circle cx="381.9" cy="292.1" r="4.0"/><circle cx="384.8" cy="290.8" r="4.0"/><circle cx="387.7" cy="290.8" r="4.0"/><circle cx="390.6" cy="289.7" r="4.0"/><circle cx="392.7" cy="288.8" r="4.0"/><circle cx="395.7" cy="288" r="4.0"/><circle cx="398.7" cy="286.9" r="4.0"/><circle cx="401.6" cy="285.6" r="4.0"/><circle cx="404.4" cy="285.7" r="4.0"/><circle cx="407.3" cy="284.5" r="4.0"/><circle cx="410.3" cy="283.3" r="4.0"/><circle cx="413.2" cy="282.4" r="4.0"/><circle cx="416.2" cy="281.5" r="4.0"/><circle cx="419.2" cy="282" r="4.0"/><circle cx="422.2" cy="281.1" r="4.0"/><circle cx="425.3" cy="280.5" r="4.0"/><circle cx="428.3" cy="280.1" r="4.0"/><circle cx="430.5" cy="279.7" r="4.0"/><circle cx="433.6" cy="279.2" r="4.0"/><circle cx="436.6" cy="280.4" r="4.0"/><circle cx="439.7" cy="280.5" r="4.0"/><circle cx="442.7" cy="280.5" r="4.0"/><circle cx="445.8" cy="280.6" r="4.0"/><circle cx="448.8" cy="280.9" r="4.0"/><circle cx="451.8" cy="281.2" r="4.0"/><circle cx="454.8" cy="282.8" r="4.0"/><circle cx="457.9" cy="283.1" r="4.0"/><circle cx="460.9" cy="283.4" r="4.0"/><circle cx="463.9" cy="283.9" r="4.0"/><circle cx="466.8" cy="284.4" r="4.0"/><circle cx="469" cy="286.2" r="4.0"/><circle cx="469.6" cy="288.8" r="4.0"/><circle cx="470.2" cy="291.5" r="4.0"/><circle cx="470.2" cy="294.2" r="4.0"/><circle cx="469.3" cy="296.8" r="4.0"/><circle cx="468.3" cy="299.3" r="4.0"/><circle cx="415.6" cy="283.1" r="4.0"/><circle cx="418.7" cy="284" r="4.0"/><circle cx="421.7" cy="283.5" r="4.0"/><circle cx="424.8" cy="283" r="4.0"/><circle cx="427.8" cy="282.5" r="4.0"/><circle cx="430.9" cy="282" r="4.0"/><circle cx="433.9" cy="281.5" r="4.0"/><circle cx="437" cy="282.4" r="4.0"/><circle cx="440.1" cy="281.9" r="4.0"/><circle cx="443.1" cy="281.9" r="4.0"/><circle cx="446.2" cy="281.9" r="4.0"/><circle cx="449.2" cy="281.9" r="4.0"/><circle cx="452.3" cy="281.9" r="4.0"/><circle cx="454.5" cy="283.3" r="4.0"/><circle cx="457.5" cy="283.3" r="4.0"/><circle cx="460.6" cy="283.3" r="4.0"/><circle cx="457.6" cy="285.7" r="4.0"/><circle cx="460.5" cy="286.5" r="4.0"/><circle cx="463.4" cy="288.7" r="4.0"/><circle cx="465.9" cy="289.8" r="4.0"/><circle cx="466.6" cy="292.5" r="4.0"/><circle cx="467.3" cy="295.2" r="4.0"/><circle cx="461.6" cy="288.3" r="4.0"/><circle cx="462.9" cy="290.8" r="4.0"/></g>
<g fill="#EABA30"><circle cx="119.5" cy="139.1" r="4.0"/><circle cx="122.3" cy="141.9" r="4.0"/><circle cx="125.2" cy="144.9" r="4.0"/><circle cx="128.1" cy="147.9" r="4.0"/><circle cx="131.2" cy="151" r="4.0"/><circle cx="134.7" cy="153.6" r="4.0"/><circle cx="138.6" cy="155.9" r="4.0"/><circle cx="142.1" cy="158.5" r="4.0"/><circle cx="144.7" cy="162.2" r="4.0"/><circle cx="147.4" cy="166.1" r="4.0"/><circle cx="150.2" cy="170" r="4.0"/><circle cx="153" cy="174.2" r="4.0"/><circle cx="155.8" cy="178.3" r="4.0"/><circle cx="158.8" cy="182.3" r="4.0"/><circle cx="161.8" cy="186.3" r="4.0"/><circle cx="164.7" cy="190.3" r="4.0"/><circle cx="167.8" cy="194.3" r="4.0"/><circle cx="170.7" cy="198.3" r="4.0"/><circle cx="172.9" cy="202.8" r="4.0"/><circle cx="174.9" cy="207.3" r="4.0"/><circle cx="176.9" cy="211.7" r="4.0"/><circle cx="178.9" cy="216" r="4.0"/><circle cx="180.4" cy="220.2" r="4.0"/><circle cx="181.8" cy="224.4" r="4.0"/><circle cx="183.2" cy="228.4" r="4.0"/><circle cx="184.6" cy="232.3" r="4.0"/><circle cx="185.7" cy="236.1" r="4.0"/><circle cx="186.8" cy="239.9" r="4.0"/><circle cx="187.9" cy="243.5" r="4.0"/><circle cx="188.9" cy="247" r="4.0"/><circle cx="189.9" cy="250.4" r="4.0"/><circle cx="191" cy="253.6" r="4.0"/><circle cx="192" cy="256.8" r="4.0"/><circle cx="193" cy="259.8" r="4.0"/><circle cx="193.9" cy="262.7" r="4.0"/><circle cx="194.8" cy="265.6" r="4.0"/><circle cx="195.7" cy="268.5" r="4.0"/><circle cx="196.6" cy="271.3" r="4.0"/><circle cx="197.7" cy="274.1" r="4.0"/><circle cx="198.8" cy="276.9" r="4.0"/><circle cx="199.9" cy="279.7" r="4.0"/><circle cx="200.9" cy="282.5" r="4.0"/><circle cx="202" cy="285.3" r="4.0"/><circle cx="203.2" cy="288" r="4.0"/><circle cx="205.1" cy="290.4" r="4.0"/><circle cx="206.9" cy="292.8" r="4.0"/><circle cx="208.8" cy="295.1" r="4.0"/><circle cx="210.6" cy="297.5" r="4.0"/><circle cx="212.4" cy="299.9" r="4.0"/><circle cx="215.2" cy="301" r="4.0"/><circle cx="218" cy="301.8" r="4.0"/><circle cx="220.9" cy="302.7" r="4.0"/><circle cx="223.8" cy="303.6" r="4.0"/><circle cx="226.7" cy="304.5" r="4.0"/><circle cx="229.5" cy="305.4" r="4.0"/><circle cx="232.5" cy="305.6" r="4.0"/><circle cx="235.5" cy="305.8" r="4.0"/><circle cx="238.5" cy="305.9" r="4.0"/><circle cx="241.5" cy="306" r="4.0"/><circle cx="244.5" cy="306" r="4.0"/><circle cx="247.6" cy="306.2" r="4.0"/><circle cx="250.7" cy="305.7" r="4.0"/><circle cx="253.7" cy="305.1" r="4.0"/><circle cx="256.8" cy="304.5" r="4.0"/><circle cx="259.8" cy="303.9" r="4.0"/><circle cx="262" cy="304.7" r="4.0"/><circle cx="265" cy="304.1" r="4.0"/><circle cx="268.1" cy="303.4" r="4.0"/><circle cx="271.1" cy="302.7" r="4.0"/><circle cx="274.1" cy="302" r="4.0"/><circle cx="277.1" cy="301.2" r="4.0"/><circle cx="280.2" cy="301.9" r="4.0"/><circle cx="283.2" cy="301.2" r="4.0"/><circle cx="286.2" cy="300.5" r="4.0"/><circle cx="289.3" cy="299.9" r="4.0"/><circle cx="292.3" cy="299.3" r="4.0"/><circle cx="295.4" cy="300.1" r="4.0"/><circle cx="298.4" cy="299.5" r="4.0"/><circle cx="300.6" cy="298.9" r="4.0"/><circle cx="303.6" cy="298.3" r="4.0"/><circle cx="306.7" cy="297.7" r="4.0"/><circle cx="309.7" cy="296.9" r="4.0"/><circle cx="312.7" cy="297.5" r="4.0"/><circle cx="315.7" cy="296.6" r="4.0"/><circle cx="318.7" cy="295.8" r="4.0"/><circle cx="321.7" cy="294.9" r="4.0"/><circle cx="324.7" cy="294.1" r="4.0"/><circle cx="327.7" cy="293.2" r="4.0"/><circle cx="330.7" cy="293.8" r="4.0"/><circle cx="333.7" cy="292.9" r="4.0"/><circle cx="336.8" cy="292.1" r="4.0"/><circle cx="338.9" cy="291.2" r="4.0"/><circle cx="341.9" cy="290.4" r="4.0"/><circle cx="344.9" cy="290.9" r="4.0"/><circle cx="347.9" cy="290" r="4.0"/><circle cx="350.9" cy="289.1" r="4.0"/><circle cx="353.9" cy="288.1" r="4.0"/><circle cx="356.8" cy="287.1" r="4.0"/><circle cx="359.8" cy="286.1" r="4.0"/><circle cx="362.8" cy="286.6" r="4.0"/><circle cx="365.8" cy="285.7" r="4.0"/><circle cx="368.8" cy="284.8" r="4.0"/><circle cx="371.8" cy="284" r="4.0"/><circle cx="374.7" cy="282.7" r="4.0"/><circle cx="376.7" cy="281.5" r="4.0"/><circle cx="379.6" cy="281.6" r="4.0"/><circle cx="382.5" cy="280.3" r="4.0"/><circle cx="385.3" cy="279" r="4.0"/><circle cx="388.2" cy="277.7" r="4.0"/><circle cx="391.1" cy="276.4" r="4.0"/><circle cx="394" cy="276.5" r="4.0"/><circle cx="396.9" cy="275.2" r="4.0"/><circle cx="399.8" cy="274" r="4.0"/><circle cx="402.6" cy="272.7" r="4.0"/><circle cx="405.5" cy="271.4" r="4.0"/><circle cx="408.4" cy="270.1" r="4.0"/><circle cx="411.3" cy="270.3" r="4.0"/><circle cx="413.4" cy="269.2" r="4.0"/><circle cx="416.3" cy="268.1" r="4.0"/><circle cx="419.3" cy="267" r="4.0"/><circle cx="422.2" cy="265.9" r="4.0"/><circle cx="425.1" cy="264.8" r="4.0"/><circle cx="428.1" cy="265" r="4.0"/><circle cx="431" cy="263.9" r="4.0"/><circle cx="434" cy="262.8" r="4.0"/><circle cx="436.9" cy="261.8" r="4.0"/><circle cx="439.9" cy="261.1" r="4.0"/><circle cx="443" cy="261.8" r="4.0"/><circle cx="446" cy="261.1" r="4.0"/><circle cx="449" cy="260.4" r="4.0"/><circle cx="451.2" cy="259.7" r="4.0"/><circle cx="454.3" cy="259.2" r="4.0"/><circle cx="457.3" cy="258.9" r="4.0"/><circle cx="460.4" cy="260.1" r="4.0"/><circle cx="463.5" cy="259.8" r="4.0"/><circle cx="121.5" cy="137.5" r="4.0"/><circle cx="124.3" cy="140.4" r="4.0"/><circle cx="127.1" cy="143.3" r="4.0"/><circle cx="130.1" cy="146.4" r="4.0"/><circle cx="133.1" cy="149.5" r="4.0"/><circle cx="136.6" cy="152.1" r="4.0"/><circle cx="140.5" cy="154.5" r="4.0"/><circle cx="457.6" cy="265.7" r="4.0"/><circle cx="460.7" cy="265.6" r="4.0"/><circle cx="463.7" cy="266.9" r="4.0"/><circle cx="466.8" cy="266.8" r="4.0"/><circle cx="469.9" cy="266.7" r="4.0"/><circle cx="472.9" cy="266.6" r="4.0"/><circle cx="476" cy="266.5" r="4.0"/><circle cx="460.6" cy="270.1" r="4.0"/><circle cx="463.7" cy="269.9" r="4.0"/><circle cx="466.7" cy="269.8" r="4.0"/><circle cx="469.8" cy="269.6" r="4.0"/><circle cx="472.9" cy="270.9" r="4.0"/><circle cx="475.9" cy="270.7" r="4.0"/><circle cx="463.6" cy="274.5" r="4.0"/><circle cx="466.7" cy="274.2" r="4.0"/><circle cx="469.7" cy="274" r="4.0"/><circle cx="466.6" cy="276.5" r="4.0"/></g>
<g fill="#F9FB15"><circle cx="149.1" cy="162" r="4.0"/><circle cx="153.1" cy="164" r="4.0"/><circle cx="157.3" cy="166.2" r="4.0"/><circle cx="161.4" cy="169" r="4.0"/><circle cx="165.4" cy="172" r="4.0"/><circle cx="169.2" cy="175.2" r="4.0"/><circle cx="172.4" cy="179.1" r="4.0"/><circle cx="175.6" cy="182.9" r="4.0"/><circle cx="178.5" cy="186.9" r="4.0"/><circle cx="181.4" cy="191" r="4.0"/><circle cx="184.2" cy="195.2" r="4.0"/><circle cx="187" cy="199.3" r="4.0"/><circle cx="189.2" cy="203.8" r="4.0"/><circle cx="191.1" cy="208.3" r="4.0"/><circle cx="193" cy="212.7" r="4.0"/><circle cx="194.8" cy="216.9" r="4.0"/><circle cx="196.7" cy="221" r="4.0"/><circle cx="198.5" cy="225" r="4.0"/><circle cx="200.3" cy="228.8" r="4.0"/><circle cx="202" cy="232.6" r="4.0"/><circle cx="203.3" cy="236.3" r="4.0"/><circle cx="204.5" cy="240" r="4.0"/><circle cx="205.7" cy="243.6" r="4.0"/><circle cx="206.9" cy="247.1" r="4.0"/><circle cx="207.9" cy="250.5" r="4.0"/><circle cx="208.8" cy="253.7" r="4.0"/><circle cx="209.7" cy="256.9" r="4.0"/><circle cx="210.6" cy="260" r="4.0"/><circle cx="211.5" cy="262.9" r="4.0"/><circle cx="212.4" cy="265.8" r="4.0"/><circle cx="213.3" cy="268.6" r="4.0"/><circle cx="214.3" cy="271.5" r="4.0"/><circle cx="215.3" cy="274.3" r="4.0"/><circle cx="216.3" cy="277.1" r="4.0"/><circle cx="217.3" cy="279.9" r="4.0"/><circle cx="218.4" cy="282.8" r="4.0"/><circle cx="219.5" cy="285.5" r="4.0"/><circle cx="221" cy="288.1" r="4.0"/><circle cx="222.6" cy="290.7" r="4.0"/><circle cx="224.1" cy="293.3" r="4.0"/><circle cx="225.6" cy="295.8" r="4.0"/><circle cx="227.4" cy="298.2" r="4.0"/><circle cx="229.8" cy="300" r="4.0"/><circle cx="232.2" cy="301.9" r="4.0"/><circle cx="234.5" cy="303.7" r="4.0"/><circle cx="236.9" cy="305.5" r="4.0"/><circle cx="239.5" cy="306.9" r="4.0"/><circle cx="242.4" cy="307.8" r="4.0"/><circle cx="245.5" cy="308.8" r="4.0"/><circle cx="248.4" cy="309.4" r="4.0"/><circle cx="251.3" cy="310" r="4.0"/><circle cx="254.4" cy="309.5" r="4.0"/><circle cx="256.6" cy="310.5" r="4.0"/><circle cx="259.6" cy="310" r="4.0"/><circle cx="262.7" cy="309.6" r="4.0"/><circle cx="265.8" cy="309.1" r="4.0"/><circle cx="268.8" cy="308.6" r="4.0"/><circle cx="271.9" cy="309.5" r="4.0"/><circle cx="274.9" cy="308.9" r="4.0"/><circle cx="278" cy="308.4" r="4.0"/><circle cx="281" cy="307.9" r="4.0"/><circle cx="284.1" cy="307.4" r="4.0"/><circle cx="287.1" cy="306.8" r="4.0"/><circle cx="290.2" cy="307.5" r="4.0"/><circle cx="293.2" cy="306.9" r="4.0"/><circle cx="295.4" cy="306.2" r="4.0"/><circle cx="298.4" cy="305.6" r="4.0"/><circle cx="301.5" cy="304.9" r="4.0"/><circle cx="304.5" cy="304.2" r="4.0"/><circle cx="307.5" cy="304.9" r="4.0"/><circle cx="310.5" cy="303.9" r="4.0"/><circle cx="313.5" cy="302.9" r="4.0"/><circle cx="316.4" cy="301.9" r="4.0"/><circle cx="319.4" cy="300.9" r="4.0"/><circle cx="322.4" cy="301.3" r="4.0"/><circle cx="325.3" cy="300.3" r="4.0"/><circle cx="328.3" cy="299.2" r="4.0"/><circle cx="331.3" cy="298.2" r="4.0"/><circle cx="333.4" cy="297.2" r="4.0"/><circle cx="336.3" cy="296.2" r="4.0"/><circle cx="339.3" cy="296.6" r="4.0"/><circle cx="342.3" cy="295.6" r="4.0"/><circle cx="345.2" cy="294.6" r="4.0"/><circle cx="348.2" cy="293.6" r="4.0"/><circle cx="351.2" cy="292.6" r="4.0"/><circle cx="354.1" cy="291.5" r="4.0"/><circle cx="357" cy="291.7" r="4.0"/><circle cx="360" cy="290.6" r="4.0"/><circle cx="362.9" cy="289.5" r="4.0"/><circle cx="365.9" cy="288.4" r="4.0"/><circle cx="368.8" cy="287.4" r="4.0"/><circle cx="370.9" cy="287.7" r="4.0"/><circle cx="373.8" cy="286.4" r="4.0"/><circle cx="376.6" cy="285" r="4.0"/><circle cx="379.5" cy="283.7" r="4.0"/><circle cx="382.4" cy="282.4" r="4.0"/><circle cx="385.2" cy="281" r="4.0"/><circle cx="388.2" cy="281.3" r="4.0"/><circle cx="391.1" cy="280.4" r="4.0"/><circle cx="399.4" cy="277.8" r="4.0"/><circle cx="407.7" cy="275.1" r="4.0"/><circle cx="416.5" cy="272.7" r="4.0"/><circle cx="419.4" cy="271.6" r="4.0"/><circle cx="422.4" cy="270.5" r="4.0"/><circle cx="425.3" cy="269.4" r="4.0"/><circle cx="428.2" cy="268.2" r="4.0"/><circle cx="431.2" cy="268.5" r="4.0"/><circle cx="434.1" cy="267.4" r="4.0"/><circle cx="437.1" cy="266.3" r="4.0"/><circle cx="440" cy="265.2" r="4.0"/><circle cx="442.9" cy="264.1" r="4.0"/><circle cx="445.9" cy="263" r="4.0"/><circle cx="448.8" cy="263.3" r="4.0"/><circle cx="451.8" cy="262.2" r="4.0"/><circle cx="453.9" cy="261.2" r="4.0"/><circle cx="456.9" cy="260.7" r="4.0"/><circle cx="460" cy="260.2" r="4.0"/><circle cx="463" cy="261.1" r="4.0"/><circle cx="466.1" cy="260.9" r="4.0"/><circle cx="469.2" cy="260.7" r="4.0"/><circle cx="472.2" cy="260.5" r="4.0"/><circle cx="475.3" cy="260.4" r="4.0"/><circle cx="478.4" cy="260.2" r="4.0"/><circle cx="481.4" cy="261.6" r="4.0"/><circle cx="484.4" cy="262.2" r="4.0"/><circle cx="469.6" cy="258.4" r="4.0"/><circle cx="472.7" cy="258.4" r="4.0"/><circle cx="475.7" cy="258.4" r="4.0"/><circle cx="478.8" cy="259.8" r="4.0"/><circle cx="481.8" cy="259.7" r="4.0"/><circle cx="473.6" cy="262.5" r="4.0"/><circle cx="476.7" cy="262.6" r="4.0"/><circle cx="479.7" cy="262.6" r="4.0"/><circle cx="482.8" cy="264" r="4.0"/></g>
<g fill="#FF0000"><rect x="-2" y="-2" width="4" height="4" transform="translate(484.9,33.8) rotate(49)"/><rect x="-2" y="-2" width="4" height="4" transform="translate(489.9,39.5) rotate(52)"/><rect x="-2" y="-2" width="4" height="4" transform="translate(494.4,45.8) rotate(82)"/><rect x="-2" y="-2" width="4" height="4" transform="translate(491.8,53.2) rotate(109)"/><rect x="-2" y="-2" width="4" height="4" transform="translate(489.9,59.1) rotate(62)"/><rect x="-2" y="-2" width="4" height="4" transform="translate(496.0,61.0) rotate(35)"/><rect x="-2" y="-2" width="4" height="4" transform="translate(499.8,66.1) rotate(34)"/><rect x="-2" y="-2" width="4" height="4" transform="translate(506.1,67.7) rotate(21)"/><rect x="-2" y="-2" width="4" height="4" transform="translate(513.1,71.1) rotate(39)"/><rect x="-2" y="-2" width="4" height="4" transform="translate(518.2,77.5) rotate(56)"/><rect x="-2" y="-2" width="4" height="4" transform="translate(522.0,84.2) rotate(65)"/><rect x="-2" y="-2" width="4" height="4" transform="translate(524.7,91.2) rotate(70)"/><rect x="-2" y="-2" width="4" height="4" transform="translate(527.0,98.3) rotate(75)"/><rect x="-2" y="-2" width="4" height="4" transform="translate(528.3,104.5) rotate(75)"/><rect x="-2" y="-2" width="4" height="4" transform="translate(530.5,111.0) rotate(71)"/><rect x="-2" y="-2" width="4" height="4" transform="translate(533.0,118.5) rotate(69)"/><rect x="-2" y="-2" width="4" height="4" transform="translate(536.6,126.9) rotate(64)"/><rect x="-2" y="-2" width="4" height="4" transform="translate(540.4,133.6) rotate(55)"/><rect x="-2" y="-2" width="4" height="4" transform="translate(545.4,139.6) rotate(56)"/><rect x="-2" y="-2" width="4" height="4" transform="translate(548.9,146.3) rotate(65)"/><rect x="-2" y="-2" width="4" height="4" transform="translate(551.8,153.5) rotate(65)"/><rect x="-2" y="-2" width="4" height="4" transform="translate(555.2,159.8) rotate(67)"/><rect x="-2" y="-2" width="4" height="4" transform="translate(557.8,167.4) rotate(79)"/><rect x="-2" y="-2" width="4" height="4" transform="translate(558.1,175.0) rotate(97)"/><rect x="-2" y="-2" width="4" height="4" transform="translate(555.8,182.6) rotate(107)"/></g>
<circle cx="107.3" cy="189.4" r="10.1" fill="none" stroke="#3E26A8" stroke-width="1.9"/>
<g fill="#3E26A8"><circle cx="107.3" cy="189.4" r="4.0"/></g>
<circle cx="74.9" cy="213" r="10.1" fill="none" stroke="#4367FD" stroke-width="1.9"/>
<g fill="#4367FD"><circle cx="74.9" cy="213" r="4.0"/></g>
<circle cx="134" cy="142" r="10.1" fill="none" stroke="#1CAADF" stroke-width="1.9"/>
<g fill="#1CAADF"><circle cx="134" cy="142" r="4.0"/></g>
<circle cx="87.2" cy="136.6" r="10.1" fill="none" stroke="#48CB86" stroke-width="1.9"/>
<g fill="#48CB86"><circle cx="87.2" cy="136.6" r="4.0"/></g>
<circle cx="127.1" cy="127.1" r="10.1" fill="none" stroke="#EABA30" stroke-width="1.9"/>
<g fill="#EABA30"><circle cx="127.1" cy="127.1" r="4.0"/></g>
<circle cx="136.5" cy="168.4" r="10.1" fill="none" stroke="#F9FB15" stroke-width="1.9"/>
<g fill="#F9FB15"><circle cx="136.5" cy="167.7" r="4.0"/><circle cx="140.3" cy="168.4" r="4.0"/></g>
<path d="M189.5,349.1 L201.3,369.5 L177.7,369.5 Z" fill="#3E26A8" stroke="#0a0a0a" stroke-width="0.9" stroke-linejoin="miter"/>
<path d="M161.4,341.6 L173.2,362 L149.6,362 Z" fill="#4367FD" stroke="#0a0a0a" stroke-width="0.9" stroke-linejoin="miter"/>
<path d="M208.6,317.2 L220.4,337.6 L196.8,337.6 Z" fill="#1CAADF" stroke="#0a0a0a" stroke-width="0.9" stroke-linejoin="miter"/>
<path d="M194.6,321 L206.4,341.4 L182.8,341.4 Z" fill="#48CB86" stroke="#0a0a0a" stroke-width="0.9" stroke-linejoin="miter"/>
<path d="M219.7,292.1 L231.5,312.5 L207.9,312.5 Z" fill="#EABA30" stroke="#0a0a0a" stroke-width="0.9" stroke-linejoin="miter"/>
<path d="M234.5,293.9 L246.3,314.3 L222.7,314.3 Z" fill="#F9FB15" stroke="#0a0a0a" stroke-width="0.9" stroke-linejoin="miter"/>
<path d="M530.4,102.8 L542.2,123.2 L518.6,123.2 Z" fill="#FF0000" stroke="#0a0a0a" stroke-width="0.9" stroke-linejoin="miter"/>
</g>
<path d="M55.5,10 V455" stroke="#444" stroke-width="1" fill="none"/>
<path d="M574.5,10 V455" stroke="#777" stroke-width="1" fill="none"/>
<path d="M55,10.5 H575" stroke="#707070" stroke-width="1" fill="none"/>
<path d="M55,454.6 H575" stroke="#959595" stroke-width="1.3" fill="none"/>
<path d="M117.5,454.5 v-5.5 M117.5,10.5 v5.5 M179.5,454.5 v-5.5 M179.5,10.5 v5.5 M241.5,454.5 v-5.5 M241.5,10.5 v5.5 M302.5,454.5 v-5.5 M302.5,10.5 v5.5 M364.5,454.5 v-5.5 M364.5,10.5 v5.5 M426.5,454.5 v-5.5 M426.5,10.5 v5.5 M488.5,454.5 v-5.5 M488.5,10.5 v5.5 M550.5,454.5 v-5.5 M550.5,10.5 v5.5 M55.5,430.5 h5.5 M574.5,430.5 h-5.5 M55.5,380.5 h5.5 M574.5,380.5 h-5.5 M55.5,331.5 h5.5 M574.5,331.5 h-5.5 M55.5,281.5 h5.5 M574.5,281.5 h-5.5 M55.5,232.5 h5.5 M574.5,232.5 h-5.5 M55.5,183.5 h5.5 M574.5,183.5 h-5.5 M55.5,133.5 h5.5 M574.5,133.5 h-5.5 M55.5,84.5 h5.5 M574.5,84.5 h-5.5 M55.5,35.5 h5.5 M574.5,35.5 h-5.5" stroke="#555" stroke-width="1" fill="none"/>
<g font-family="'Liberation Serif','Times New Roman',serif" font-size="20.4" fill="#000">
<text x="55.5" y="481" text-anchor="middle">32</text>
<text x="117.3" y="481" text-anchor="middle">32.5</text>
<text x="179.2" y="481" text-anchor="middle">33</text>
<text x="241.1" y="481" text-anchor="middle">33.5</text>
<text x="302.9" y="481" text-anchor="middle">34</text>
<text x="364.8" y="481" text-anchor="middle">34.5</text>
<text x="426.6" y="481" text-anchor="middle">35</text>
<text x="488.4" y="481" text-anchor="middle">35.5</text>
<text x="550.3" y="481" text-anchor="middle">36</text>
<text x="48.5" y="437" text-anchor="end">6</text>
<text x="48.5" y="387.7" text-anchor="end">8</text>
<text x="48.5" y="338.3" text-anchor="end">10</text>
<text x="48.5" y="288.9" text-anchor="end">12</text>
<text x="48.5" y="239.6" text-anchor="end">14</text>
<text x="48.5" y="190.2" text-anchor="end">16</text>
<text x="48.5" y="140.9" text-anchor="end">18</text>
<text x="48.5" y="91.5" text-anchor="end">20</text>
<text x="48.5" y="42.1" text-anchor="end">22</text>
<text x="613.5" y="461.5">1990</text>
<text x="613.5" y="387.5">1995</text>
<text x="613.5" y="313.5">2000</text>
<text x="613.5" y="239.5">2005</text>
<text x="613.5" y="165.5">2010</text>
<text x="613.5" y="91.5">2015</text>
<text x="613.5" y="17.5">2020</text>
</g>
<g font-family="'Liberation Serif','Times New Roman',serif" font-size="22.6" fill="#000" text-anchor="middle">
<text x="315" y="506.8">Salinity</text>
<text transform="translate(19,232.5) rotate(-90)">Temperature</text>
<text transform="translate(678.7,232.5) rotate(-90)" font-size="22.2">Year</text>
</g>
<rect x="585" y="380.5" width="22" height="74.5" fill="#3E26A8"/>
<rect x="585" y="306.5" width="22" height="74.5" fill="#4367FD"/>
<rect x="585" y="232.5" width="22" height="74.5" fill="#1CAADF"/>
<rect x="585" y="158.5" width="22" height="74.5" fill="#48CB86"/>
<rect x="585" y="84.5" width="22" height="74.5" fill="#EABA30"/>
<rect x="585" y="10" width="22" height="74.5" fill="#F9FB15"/>
<path d="M606.5,380.5 h-5 M606.5,306.5 h-5 M606.5,232.5 h-5 M606.5,158.5 h-5 M606.5,84.5 h-5" stroke="#333" stroke-width="1" fill="none"/>
<rect x="585.5" y="10.5" width="21" height="444" fill="none" stroke="#000" stroke-opacity="0.55" stroke-width="1"/>
</svg>
</body></html>
